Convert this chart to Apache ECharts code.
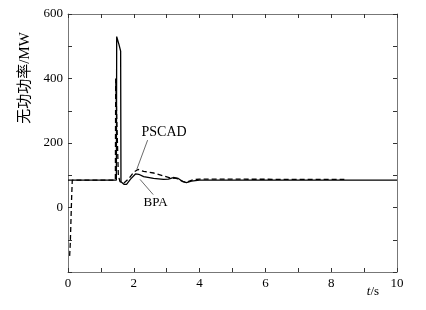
<!DOCTYPE html>
<html><head><meta charset="utf-8">
<script src="https://cdn.jsdelivr.net/npm/echarts@6/dist/echarts.min.js"></script>
<style>html,body{margin:0;padding:0;background:#fff}#c{width:426px;height:310px}</style>
</head><body><div id="c"></div>
<script>
// BPA (solid) and PSCAD (dashed) reactive power, [t (s), Q (MW)]
const bpa = [[0,85],[1.47,85],[1.48,530],[1.55,505],[1.6,485],[1.61,80],[1.7,72],[1.78,72],[1.9,88],[2.05,104],[2.15,103],[2.3,96],[2.6,90],[2.9,87],[3.05,88],[3.2,93],[3.35,90],[3.5,80],[3.6,77],[3.75,82],[4.0,85],[10,85]];
const pscad = [[0.05,-150],[0.07,-110],[0.09,-40],[0.11,30],[0.13,85],[1.44,85],[1.45,400],[1.5,400],[1.53,100],[1.58,80],[1.7,76],[1.85,90],[2.0,110],[2.13,118],[2.3,112],[2.6,107],[2.9,98],[3.1,92],[3.3,90],[3.5,80],[3.6,78],[3.8,86],[4.0,88],[8.4,87]];
const xTickLabels = ['0','2','4','6','8','10'];
const yTickLabels = ['0','200','400','600'];
const yName = '无功功率/MW';
const ann = [
  {text:'PSCAD', at:[2.92,232], from:[2.42,209], to:[2.09,118], size:14},
  {text:'BPA', at:[2.66,15], from:[2.59,40], to:[2.19,87], size:13}
];

const font = '"Liberation Serif","DejaVu Serif","Noto Sans CJK SC",serif';
const axisCol = '#777';
const chart = echarts.init(document.getElementById('c'), null, {renderer:'canvas'});
const baseX = {type:'value', min:0, max:10, interval:1,
  axisLine:{show:true, onZero:false, lineStyle:{color:axisCol, width:1}},
  axisTick:{show:true, inside:true, length:4, lineStyle:{color:'#333'}},
  splitLine:{show:false}};
const baseY = {type:'value', min:-200, max:600, interval:100,
  axisLine:{show:true, onZero:false, lineStyle:{color:axisCol, width:1}},
  axisTick:{show:true, inside:true, length:4, lineStyle:{color:'#333'}},
  splitLine:{show:false}};
chart.setOption({
  animation:false,
  grid:{left:68, right:29, top:14, bottom:38},
  xAxis:[
    Object.assign({}, baseX, {position:'bottom',
      axisLabel:{margin:5, color:'#000', fontFamily:font, fontSize:13,
        formatter:v => xTickLabels.includes(String(v)) ? String(v) : ''}}),
    Object.assign({}, baseX, {position:'top', axisLabel:{show:false}})
  ],
  yAxis:[
    Object.assign({}, baseY, {position:'left',
      axisLabel:{margin:5, color:'#000', fontFamily:font, fontSize:13,
        formatter:v => yTickLabels.includes(String(v)) ? String(v) : ''}}),
    Object.assign({}, baseY, {position:'right', axisLabel:{show:false}})
  ],
  series:[
    {type:'line', name:'BPA', data:bpa, symbol:'none', xAxisIndex:0, yAxisIndex:0,
      lineStyle:{color:'#000', width:1.3}},
    {type:'line', name:'PSCAD', data:pscad, symbol:'none', xAxisIndex:0, yAxisIndex:0,
      lineStyle:{color:'#000', width:1.3, type:[5,3]}}
  ]
});
const px = p => chart.convertToPixel({xAxisIndex:0, yAxisIndex:0}, p);
const g = [];
ann.forEach(a => {
  const c = px(a.at), f = px(a.from), t = px(a.to);
  g.push({type:'text', x:c[0], y:c[1], style:{text:a.text, fontFamily:font, fontSize:a.size, fill:'#000', align:'center', verticalAlign:'middle'}});
  g.push({type:'line', shape:{x1:f[0], y1:f[1], x2:t[0], y2:t[1]}, style:{stroke:'#444', lineWidth:0.8}});
});
g.push({type:'text', x:25, y:78, rotation:Math.PI/2, style:{text:yName, fontFamily:font, fontSize:15, fill:'#000', align:'center', verticalAlign:'middle'}});
g.push({type:'text', x:373, y:292, style:{rich:{i:{fontStyle:'italic', fontFamily:font, fontSize:13, fill:'#000'}, n:{fontFamily:font, fontSize:13, fill:'#000'}}, text:'{i|t}{n|/s}', align:'center', verticalAlign:'middle'}});
chart.setOption({graphic:g});
</script></body></html>
